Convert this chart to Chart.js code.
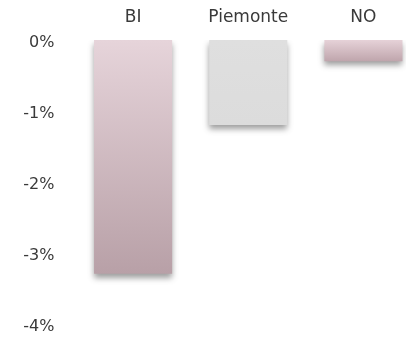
<!DOCTYPE html>
<html>
<head>
<meta charset="utf-8">
<script src="https://cdn.jsdelivr.net/npm/chart.js@4/dist/chart.umd.min.js"></script>
<style>
  html, body { margin: 0; padding: 0; background: #ffffff; overflow: hidden; }
  #wrap { width: 406px; height: 338px; overflow: hidden; }
</style>
</head>
<body>
<div id="wrap"><canvas id="c" width="421" height="354"></canvas></div>
<script>
// Change in percent by area
const categories = ['BI', 'Piemonte', 'NO'];
const changePct = [-3.3, -1.2, -0.3];
const tickValues = [0, -1, -2, -3, -4];
const tickLabels = ['0%', '-1%', '-2%', '-3%', '-4%'];

// top / bottom colours of each bar's vertical gradient
const gradTop = ['#e6d4da', '#dfdfdf', '#e6d2d8'];
const gradBottom = ['#b8a0a7', '#dcdcdc', '#bfa5ac'];

const FONT = '"DejaVu Sans", sans-serif';

function barFill(ctx) {
  const chart = ctx.chart;
  const i = ctx.dataIndex;
  const y = chart.scales && chart.scales.y;
  if (!chart.chartArea || !y || i === undefined) return gradTop[i || 0];
  const y0 = y.getPixelForValue(0);
  const y1 = y.getPixelForValue(changePct[i]);
  const g = chart.ctx.createLinearGradient(0, y0, 0, y1);
  g.addColorStop(0, gradTop[i]);
  g.addColorStop(1, gradBottom[i]);
  return g;
}

// soft drop shadow under the bars
const barShadow = {
  id: 'barShadow',
  beforeDatasetsDraw(chart) {
    const c = chart.ctx;
    c.save();
    c.shadowColor = 'rgba(0,0,0,0.38)';
    c.shadowBlur = 6;
    c.shadowOffsetX = 0;
    c.shadowOffsetY = 4;
  },
  afterDatasetsDraw(chart) {
    chart.ctx.restore();
  }
};

new Chart(document.getElementById('c'), {
  type: 'bar',
  data: {
    labels: categories,
    datasets: [{
      data: changePct,
      backgroundColor: barFill,
      borderWidth: 0,
      barPercentage: 0.678,
      categoryPercentage: 1.0
    }]
  },
  options: {
    responsive: false,
    animation: false,
    events: [],
    layout: { padding: { top: 0, right: 0, bottom: 0, left: 0 } },
    plugins: { legend: { display: false }, tooltip: { enabled: false } },
    scales: {
      x: {
        position: 'top',
        grid: { display: false, drawTicks: false },
        border: { display: false },
        ticks: {
          color: '#3a3a3a',
          font: { family: FONT, size: 17 },
          padding: 12,
          maxRotation: 0
        },
        afterFit(s) { s.height = 40; }
      },
      y: {
        min: -4,
        max: 0,
        grid: { display: false, drawTicks: false },
        border: { display: false },
        afterBuildTicks(s) { s.ticks = tickValues.map(v => ({ value: v })); },
        ticks: {
          color: '#3a3a3a',
          font: { family: FONT, size: 16 },
          padding: 21,
          labelOffset: 3,
          callback: (v) => tickLabels[tickValues.indexOf(v)]
        },
        afterFit(s) { s.width = 75.5; }
      }
    }
  },
  plugins: [barShadow]
});
</script>
</body>
</html>
